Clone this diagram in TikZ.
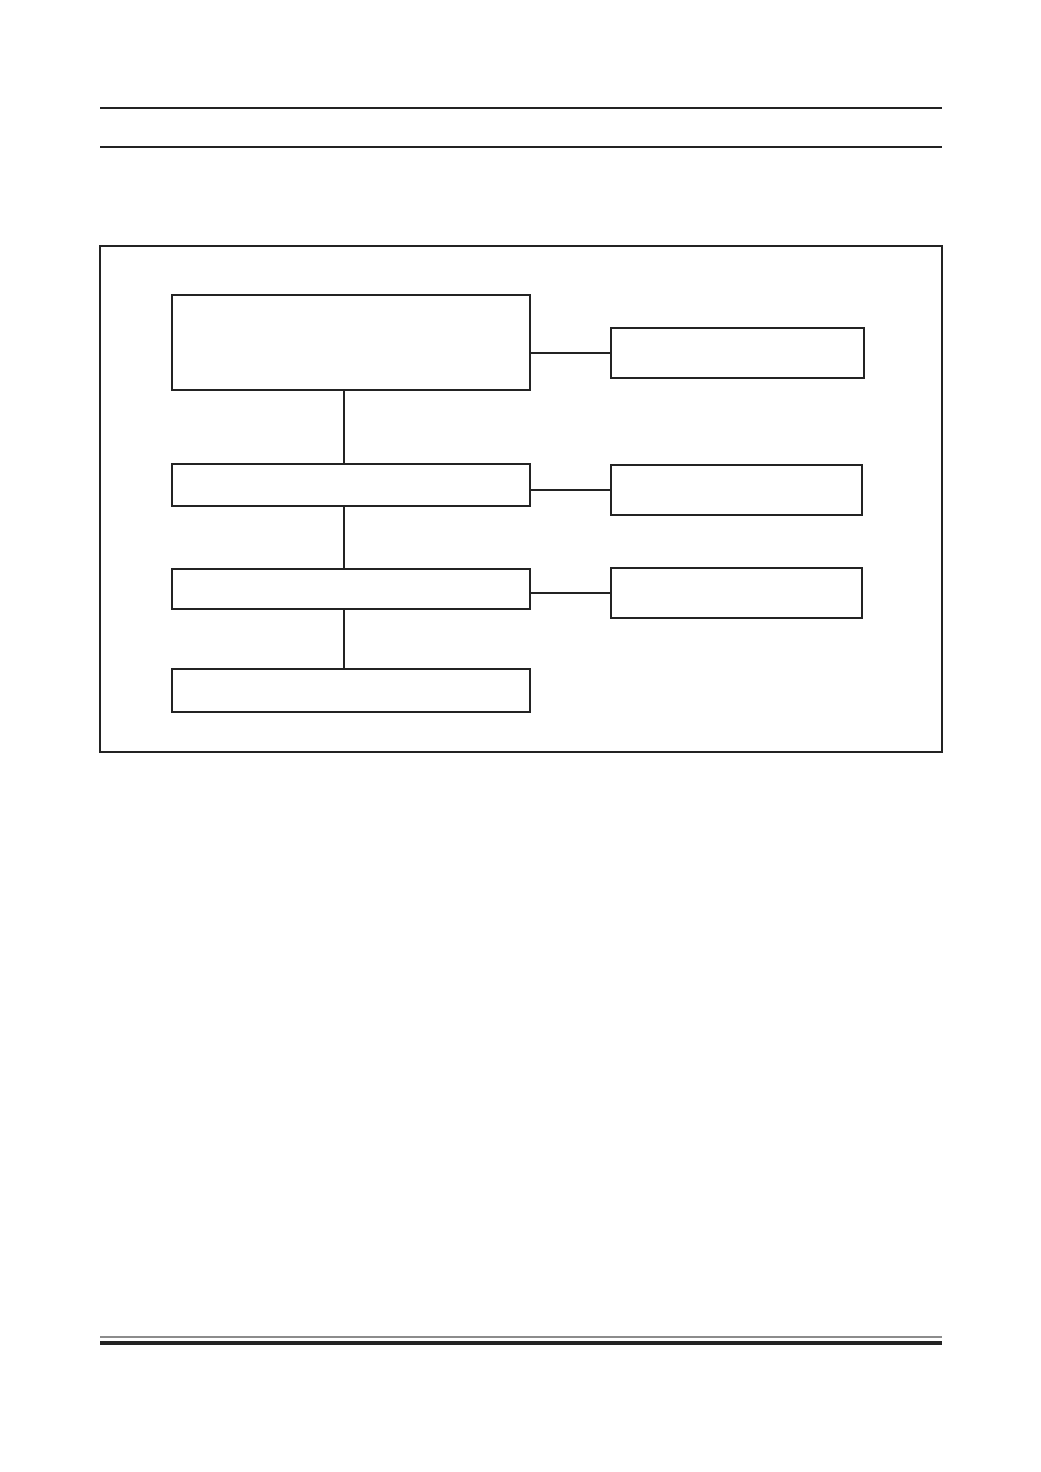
\documentclass[tikz,border=0pt]{standalone}
\usepackage{xcolor}
\usepackage{tikz}
\definecolor{ink}{RGB}{35,35,35}
\definecolor{rulegray}{RGB}{140,140,140}

\begin{document}
\begin{tikzpicture}[x=1pt, y=-1pt, line width=1.4pt, draw=ink,
  blk/.style={draw=ink, line width=1.4pt, inner sep=0pt, outer sep=0pt}]
\useasboundingbox (0,0) rectangle (1041,1472);

\draw[ink, line width=1.5pt] (100,108) -- (942,108);
\draw[ink, line width=1.8pt] (100,147) -- (942,147);

\draw[ink, line width=1.5pt] (100,246) rectangle (942,752);

\node[blk, minimum width=358, minimum height=95] (main) at (351,342.5) {};
\node[blk, minimum width=358, minimum height=42] (second) at (351,485) {};
\node[blk, minimum width=358, minimum height=40] (third) at (351,589) {};
\node[blk, minimum width=358, minimum height=43] (last) at (351,690.5) {};

\node[blk, minimum width=253, minimum height=50] (sideA) at (737.5,353) {};
\node[blk, minimum width=251, minimum height=50] (sideB) at (736.5,490) {};
\node[blk, minimum width=251, minimum height=50] (sideC) at (736.5,593) {};

\coordinate (spine) at (344,0);

\draw[ink] (main.south -| spine) -- (second.north -| spine);
\draw[ink] (second.south -| spine) -- (third.north -| spine);
\draw[ink] (third.south -| spine) -- (last.north -| spine);

\draw[ink] (main.east |- sideA.west) -- (sideA.west);
\draw[ink] (second.east |- sideB.west) -- (sideB.west);
\draw[ink] (third.east |- sideC.west) -- (sideC.west);

\draw[rulegray, line width=1.8pt] (100,1337) -- (942,1337);
\draw[ink, line width=4pt] (100,1343) -- (942,1343);
\end{tikzpicture}
\end{document}
